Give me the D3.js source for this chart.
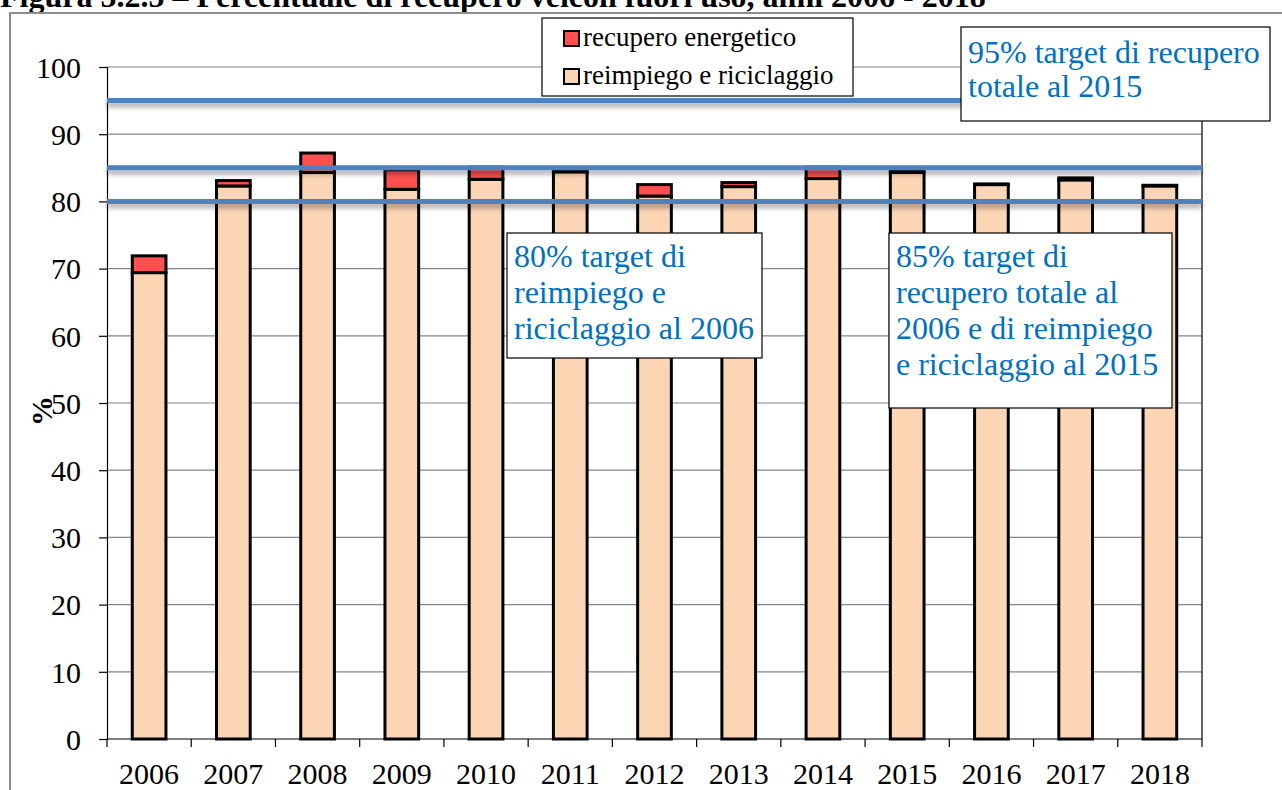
<!DOCTYPE html>
<html>
<head>
<meta charset="utf-8">
<script src="https://cdn.jsdelivr.net/npm/d3@7"></script>
<style>
  html, body { margin: 0; padding: 0; background: #fff; overflow: hidden; }
  svg { display: block; font-family: "Liberation Serif", "Times New Roman", serif; }
</style>
</head>
<body>
<svg id="chart" width="1282" height="790"></svg>
<script>
// Anni e percentuali di recupero dei veicoli fuori uso
const years = ["2006","2007","2008","2009","2010","2011","2012","2013","2014","2015","2016","2017","2018"];
const reimpiego = [69.4, 82.3, 84.3, 81.8, 83.3, 84.4, 80.8, 82.2, 83.4, 84.3, 82.5, 83.2, 82.3];
const energetico = [2.5, 0.8, 2.9, 2.9, 1.8, 0.1, 1.7, 0.6, 1.7, 0.2, 0.1, 0.3, 0.1];
const yTicks = [0,10,20,30,40,50,60,70,80,90,100];
const targets = [95, 85, 80];
const seriesNames = ["recupero energetico", "reimpiego e riciclaggio"];
const seriesColors = ["#FF5050", "#FCD5B5"];

const svg = d3.select("#chart");

// ombra delle linee di target
const defs = svg.append("defs");
const f = defs.append("filter").attr("id","shadow").attr("x","-5%").attr("y","-200%").attr("width","110%").attr("height","600%");
f.append("feDropShadow").attr("dx",0).attr("dy",4).attr("stdDeviation",2.5).attr("flood-color","#000").attr("flood-opacity",0.35);

// titolo (parzialmente fuori dall'area visibile)
svg.append("text").attr("x", 0).attr("y", 7)
  .attr("font-size", 32).attr("font-weight", "bold")
  .text("Figura 5.2.5 – Percentuale di recupero veicoli fuori uso, anni 2006 - 2018");

// cornice dell'area del grafico
svg.append("rect").attr("x", 10).attr("y", 13).attr("width", 1400).attr("height", 900)
  .attr("fill", "none").attr("stroke", "#8c8c8c").attr("stroke-width", 2);

const plotLeft = 107, plotRight = 1202, plotTop = 67, plotBottom = 739;

const x = d3.scaleBand().domain(years).range([plotLeft, plotRight]).paddingInner(0.6).paddingOuter(0.3);
const y = d3.scaleLinear().domain([0, 100]).range([plotBottom, plotTop]);

// griglia orizzontale
svg.append("g").selectAll("line").data(yTicks.filter(d => d > 0)).join("line")
  .attr("x1", plotLeft).attr("x2", plotRight)
  .attr("y1", d => y(d)).attr("y2", d => y(d))
  .attr("stroke", "#868686").attr("stroke-width", 1.2);

// bordo destro del plot
svg.append("line").attr("x1", plotRight).attr("x2", plotRight).attr("y1", plotTop).attr("y2", plotBottom)
  .attr("stroke", "#000").attr("stroke-width", 1.2);

// asse Y
const yAxis = d3.axisLeft(y).tickValues(yTicks).tickSize(8).tickPadding(18);
const gy = svg.append("g").attr("transform", `translate(${plotLeft},0)`).call(yAxis);
gy.attr("font-family", null);
gy.select(".domain").attr("stroke", "#000").attr("stroke-width", 1.2);
gy.selectAll(".tick line").attr("stroke", "#000").attr("stroke-width", 1.2);
gy.selectAll("text").attr("font-size", 30).attr("fill", "#000").attr("dy", "0.34em");

// asse X con tacche ai confini delle categorie
const step = x.step();
const boundaries = d3.range(years.length + 1).map(i => plotLeft + i * step);
svg.append("g").selectAll("line").data(boundaries).join("line")
  .attr("x1", d => d).attr("x2", d => d).attr("y1", plotBottom).attr("y2", plotBottom + 8)
  .attr("stroke", "#000").attr("stroke-width", 1.2);
svg.append("line").attr("x1", plotLeft).attr("x2", plotRight).attr("y1", plotBottom).attr("y2", plotBottom)
  .attr("stroke", "#000").attr("stroke-width", 1.2);
svg.append("g").selectAll("text").data(years).join("text")
  .attr("x", d => x(d) + x.bandwidth() / 2).attr("y", 784)
  .attr("text-anchor", "middle").attr("font-size", 30).text(d => d);

// etichetta asse Y
svg.append("text").attr("transform", "translate(52,411) rotate(-90)")
  .attr("text-anchor", "middle").attr("font-size", 30).attr("font-weight", "bold").text("%");

// barre impilate
const stackData = years.map((yr, i) => ({ year: yr, reimpiego: reimpiego[i], energetico: energetico[i] }));
const stack = d3.stack().keys(["reimpiego", "energetico"])(stackData);
const colorOf = { reimpiego: seriesColors[1], energetico: seriesColors[0] };
svg.append("g").selectAll("g").data(stack).join("g")
  .attr("fill", d => colorOf[d.key])
  .selectAll("rect").data(d => d).join("rect")
  .attr("x", d => x(d.data.year)).attr("width", x.bandwidth())
  .attr("y", d => y(d[1])).attr("height", d => y(d[0]) - y(d[1]))
  .attr("stroke", "#000").attr("stroke-width", 3);

// linee di target
svg.append("g").attr("filter", "url(#shadow)").selectAll("line").data(targets).join("line")
  .attr("x1", plotLeft).attr("x2", plotRight)
  .attr("y1", d => y(d)).attr("y2", d => y(d))
  .attr("stroke", "#4F81BD").attr("stroke-width", 5);

// riquadri di testo
const boxes = [
  { x: 961, y: 27, w: 309, h: 94, lines: ["95% target di recupero", "totale al 2015"], first: 63, lh: 34 },
  { x: 507, y: 233, w: 255, h: 125, lines: ["80% target di", "reimpiego e", "riciclaggio al 2006"], first: 267, lh: 36 },
  { x: 889, y: 233, w: 283, h: 175, lines: ["85% target di", "recupero totale al", "2006 e di reimpiego", "e riciclaggio al 2015"], first: 267, lh: 36 }
];
const bg = svg.append("g").selectAll("g").data(boxes).join("g");
bg.append("rect").attr("x", d => d.x).attr("y", d => d.y).attr("width", d => d.w).attr("height", d => d.h)
  .attr("fill", "#fff").attr("stroke", "#000").attr("stroke-width", 1.2);
bg.each(function(d) {
  d3.select(this).selectAll("text").data(d.lines).join("text")
    .attr("x", d.x + 7).attr("y", (t, i) => d.first + i * d.lh)
    .attr("font-size", 32).attr("fill", "#0070C0").text(t => t);
});

// legenda
const lg = svg.append("g");
lg.append("rect").attr("x", 542).attr("y", 18).attr("width", 311).attr("height", 78)
  .attr("fill", "#fff").attr("stroke", "#000").attr("stroke-width", 1.2);
const items = lg.selectAll("g").data(seriesNames).join("g")
  .attr("transform", (d, i) => `translate(564,${31 + i * 38})`);
items.append("rect").attr("width", 15).attr("height", 15)
  .attr("fill", (d, i) => seriesColors[i]).attr("stroke", "#000").attr("stroke-width", 2);
items.append("text").attr("x", 19).attr("y", 15).attr("font-size", 27).text(d => d);
</script>
</body>
</html>
